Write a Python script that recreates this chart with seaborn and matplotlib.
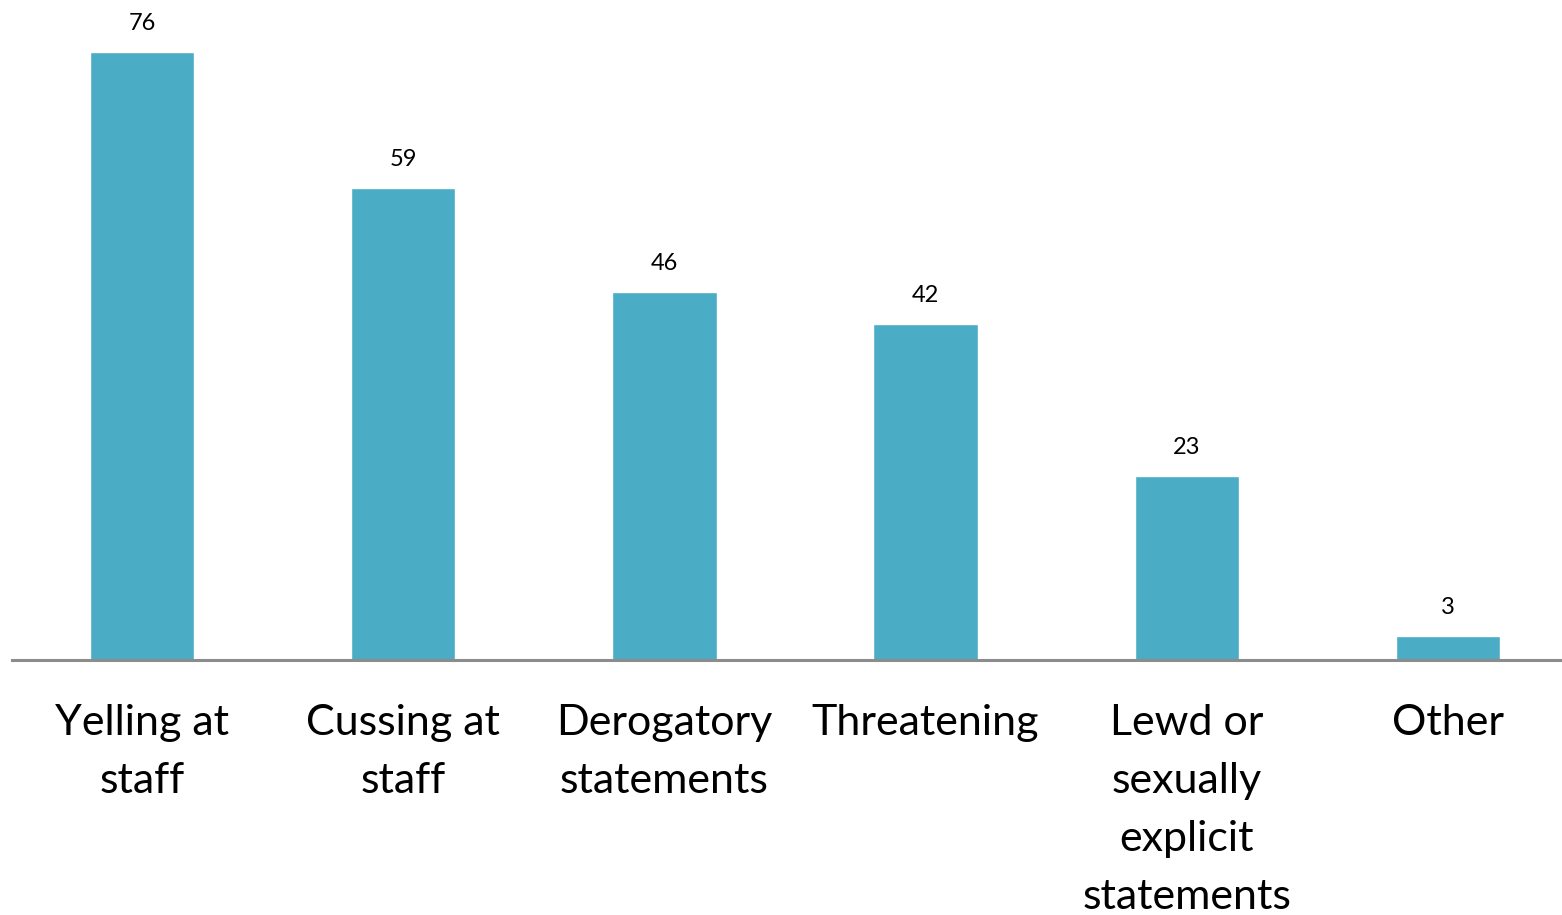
import matplotlib
matplotlib.use("Agg")
import matplotlib.pyplot as plt
import seaborn as sns
import pandas as pd

categories = ["Yelling at\nstaff", "Cussing at\nstaff", "Derogatory\nstatements",
              "Threatening", "Lewd or\nsexually\nexplicit\nstatements", "Other"]
values = [76, 59, 46, 42, 23, 3]

sns.set_theme(style="white")
plt.rcParams['font.family'] = ['Lato', 'DejaVu Sans']

df = pd.DataFrame({"category": categories, "value": values})

fig = plt.figure(figsize=(15.62, 9.15), dpi=100)
ax = fig.add_axes([11.5/1562, (915-660)/915, 1567/1562, 640/915])

sns.barplot(data=df, x="category", y="value", color="#4BACC6", width=0.4,
            saturation=1, ax=ax)

ax.set_xlim(-0.5, 5.5)
ax.set_ylim(0, 80)
ax.set_xlabel("")
ax.set_ylabel("")
ax.set_yticks([])
for s in ["top", "right", "left"]:
    ax.spines[s].set_visible(False)
ax.spines["bottom"].set_color("#8c8c8c")
ax.spines["bottom"].set_linewidth(2.2)
ax.tick_params(axis="x", length=0, pad=32, labelsize=31, labelcolor="#000000")
for lbl in ax.get_xticklabels():
    lbl.set_linespacing(1.64)
    lbl.set_verticalalignment("top")

for c in ax.containers:
    ax.bar_label(c, padding=13, fontsize=17, color="#000000")

fig.savefig("out.png", dpi=100)
